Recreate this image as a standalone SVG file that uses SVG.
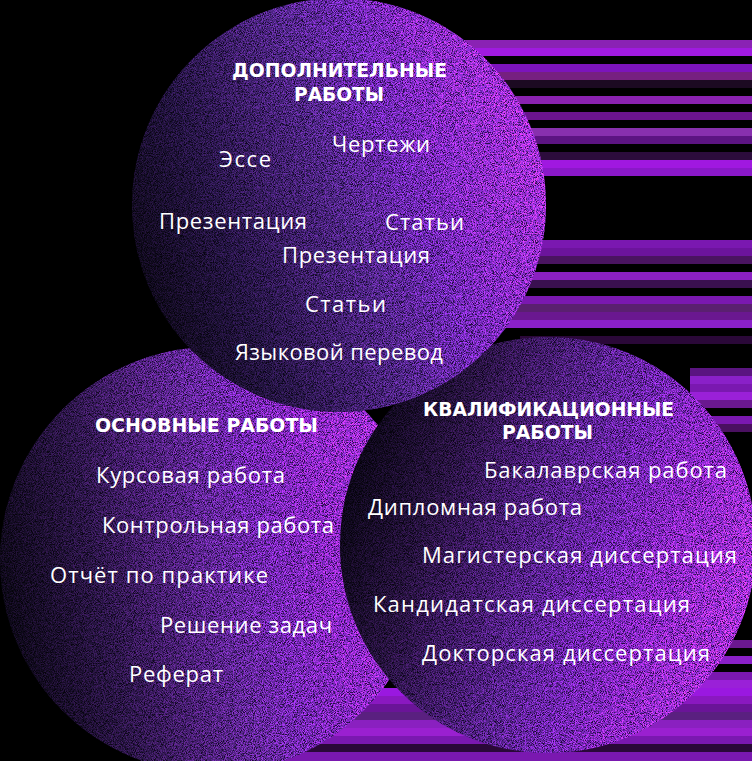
<svg xmlns="http://www.w3.org/2000/svg" width="752" height="761" viewBox="0 0 752 761">
  <defs>
    <style>
      .t { font-family: "Open Sans", "Noto Sans", "DejaVu Sans", sans-serif; font-size: 22px; fill: #ffffff; }
      .h { font-family: "DejaVu Sans", "Liberation Sans", sans-serif; font-size: 19px; font-weight: 700; fill: #ffffff; }
    </style>
    <linearGradient id="gTop" x1="0" y1="0.65" x2="1" y2="0.3">
      <stop offset="0" stop-color="#0c0916"/>
      <stop offset="0.22" stop-color="#221540"/>
      <stop offset="0.5" stop-color="#4c2784"/>
      <stop offset="0.75" stop-color="#7a2cc8"/>
      <stop offset="1" stop-color="#a034f0"/>
    </linearGradient>
    <linearGradient id="gBL" x1="0" y1="0.55" x2="1" y2="0.35">
      <stop offset="0" stop-color="#0c0916"/>
      <stop offset="0.22" stop-color="#281644"/>
      <stop offset="0.5" stop-color="#5c2894"/>
      <stop offset="0.75" stop-color="#822acc"/>
      <stop offset="1" stop-color="#a034f0"/>
    </linearGradient>
    <linearGradient id="gBR" x1="0" y1="0.4" x2="1" y2="0.7">
      <stop offset="0" stop-color="#0a0714"/>
      <stop offset="0.2" stop-color="#24133c"/>
      <stop offset="0.48" stop-color="#54248c"/>
      <stop offset="0.75" stop-color="#822acc"/>
      <stop offset="1" stop-color="#a234f2"/>
    </linearGradient>
    <filter id="grain" x="-2%" y="-2%" width="104%" height="104%" color-interpolation-filters="sRGB">
      <feTurbulence type="fractalNoise" baseFrequency="1.1" numOctaves="2" seed="7" result="t"/>
      <feComponentTransfer in="SourceGraphic" result="dark">
        <feFuncR type="linear" slope="0.3"/>
        <feFuncG type="linear" slope="0.3"/>
        <feFuncB type="linear" slope="0.35"/>
      </feComponentTransfer>
      <feComponentTransfer in="SourceGraphic" result="bright">
        <feFuncR type="linear" slope="1.55" intercept="0.03"/>
        <feFuncG type="linear" slope="1.3" intercept="0.01"/>
        <feFuncB type="linear" slope="1.4" intercept="0.05"/>
      </feComponentTransfer>
      <feColorMatrix in="t" type="matrix" values="0 0 0 0 0  0 0 0 0 0  0 0 0 0 0  6 0 0 0 -2.9" result="m1"/>
      <feColorMatrix in="t" type="matrix" values="0 0 0 0 0  0 0 0 0 0  0 0 0 0 0  0 6 0 0 -2.9" result="m2"/>
      <feComposite in="dark" in2="m1" operator="in" result="d2"/>
      <feComposite in="bright" in2="m2" operator="in" result="b2"/>
      <feMerge>
        <feMergeNode in="SourceGraphic"/>
        <feMergeNode in="d2"/>
        <feMergeNode in="b2"/>
      </feMerge>
    </filter>
  </defs>

  <rect x="0" y="0" width="752" height="761" fill="#000000"/>

  <g id="streaks">
    <rect x="440" y="40" width="312" height="8" fill="#8a22b4"/>
    <rect x="440" y="48" width="312" height="8" fill="#a01ae0"/>
    <rect x="440" y="64" width="312" height="8" fill="#7c14bc"/>
    <rect x="440" y="72" width="312" height="8" fill="#762080"/>
    <rect x="440" y="80" width="312" height="8" fill="#1c0a22"/>
    <rect x="440" y="96" width="312" height="8" fill="#8a22b0"/>
    <rect x="440" y="112" width="312" height="8" fill="#6a148e"/>
    <rect x="440" y="128" width="312" height="8" fill="#8830ae"/>
    <rect x="440" y="136" width="312" height="8" fill="#5c1482"/>
    <rect x="440" y="152" width="312" height="8" fill="#2c0c3c"/>
    <rect x="440" y="160" width="312" height="8" fill="#a018e0"/>
    <rect x="440" y="168" width="312" height="8" fill="#8a18c8"/>
    <rect x="440" y="240" width="312" height="8" fill="#7a18b0"/>
    <rect x="440" y="248" width="312" height="8" fill="#6c149c"/>
    <rect x="440" y="256" width="312" height="8" fill="#4a1460"/>
    <rect x="440" y="272" width="312" height="8" fill="#8a20c0"/>
    <rect x="440" y="280" width="312" height="8" fill="#3a1050"/>
    <rect x="440" y="296" width="312" height="8" fill="#7a18b0"/>
    <rect x="440" y="304" width="312" height="8" fill="#5a2070"/>
    <rect x="440" y="312" width="312" height="8" fill="#6a1890"/>
    <rect x="440" y="320" width="312" height="8" fill="#8a20c8"/>
    <rect x="520" y="336" width="232" height="8" fill="#2a0838"/>
    <rect x="690" y="368" width="62" height="8" fill="#5a1480"/>
    <rect x="690" y="376" width="62" height="8" fill="#8a20c8"/>
    <rect x="690" y="384" width="62" height="8" fill="#7a18b0"/>
    <rect x="690" y="392" width="62" height="8" fill="#9a20d8"/>
    <rect x="690" y="400" width="62" height="8" fill="#6a1890"/>
    <rect x="690" y="416" width="62" height="8" fill="#7a18b0"/>
    <rect x="690" y="424" width="62" height="8" fill="#4a1060"/>
    <rect x="690" y="640" width="62" height="8" fill="#6a1890"/>
    <rect x="690" y="656" width="62" height="8" fill="#8a20c8"/>
    <rect x="690" y="672" width="62" height="8" fill="#7a18b0"/>
    <rect x="690" y="680" width="62" height="8" fill="#9a20d8"/>
    <rect x="200" y="688" width="552" height="8" fill="#9a18e0"/>
    <rect x="200" y="696" width="552" height="8" fill="#8a18c0"/>
    <rect x="200" y="704" width="552" height="8" fill="#6a1498"/>
    <rect x="200" y="712" width="552" height="8" fill="#5a2080"/>
    <rect x="200" y="720" width="552" height="8" fill="#8a20c0"/>
    <rect x="200" y="728" width="552" height="8" fill="#9a20d0"/>
    <rect x="200" y="736" width="552" height="8" fill="#7a18b0"/>
    <rect x="200" y="744" width="552" height="8" fill="#2a0838"/>
    <rect x="200" y="752" width="552" height="9" fill="#7a18b0"/>
  </g>

  <g id="node-osnovnye">
    <circle cx="213" cy="560" r="213" fill="url(#gBL)" filter="url(#grain)"/>
    <text class="h" x="95" y="432" textLength="223" lengthAdjust="spacingAndGlyphs">ОСНОВНЫЕ РАБОТЫ</text>
    <text class="t" x="96" y="482.5" textLength="189">Курсовая работа</text>
    <text class="t" x="102" y="532.5" textLength="232">Контрольная работа</text>
    <text class="t" x="50" y="582.5" textLength="218">Отчёт по практике</text>
    <text class="t" x="160" y="633" textLength="172">Решение задач</text>
    <text class="t" x="129" y="682" textLength="94">Реферат</text>
  </g>

  <g id="node-kvalifikacionnye">
    <circle cx="548" cy="545" r="208" fill="url(#gBR)" filter="url(#grain)"/>
    <text class="h" x="423" y="416" textLength="251" lengthAdjust="spacingAndGlyphs">КВАЛИФИКАЦИОННЫЕ</text>
    <text class="h" x="502" y="438.5" textLength="91" lengthAdjust="spacingAndGlyphs">РАБОТЫ</text>
    <text class="t" x="484" y="478" textLength="243">Бакалаврская работа</text>
    <text class="t" x="368" y="515" textLength="214">Дипломная работа</text>
    <text class="t" x="422" y="562.5" textLength="315">Магистерская диссертация</text>
    <text class="t" x="373" y="611.5" textLength="317">Кандидатская диссертация</text>
    <text class="t" x="422" y="661" textLength="288">Докторская диссертация</text>
  </g>

  <g id="node-dopolnitelnye">
    <circle cx="339" cy="205" r="207" fill="url(#gTop)" filter="url(#grain)"/>
    <text class="h" x="232" y="77" textLength="215" lengthAdjust="spacingAndGlyphs">ДОПОЛНИТЕЛЬНЫЕ</text>
    <text class="h" x="294" y="101" textLength="90" lengthAdjust="spacingAndGlyphs">РАБОТЫ</text>
    <text class="t" x="219" y="167" textLength="52">Эссе</text>
    <text class="t" x="332" y="152" textLength="98">Чертежи</text>
    <text class="t" x="159" y="229" textLength="148">Презентация</text>
    <text class="t" x="385" y="230" textLength="79">Статьи</text>
    <text class="t" x="282" y="263" textLength="148">Презентация</text>
    <text class="t" x="305" y="311.5" textLength="81">Статьи</text>
    <text class="t" x="235" y="360" textLength="208">Языковой перевод</text>
  </g>
</svg>
